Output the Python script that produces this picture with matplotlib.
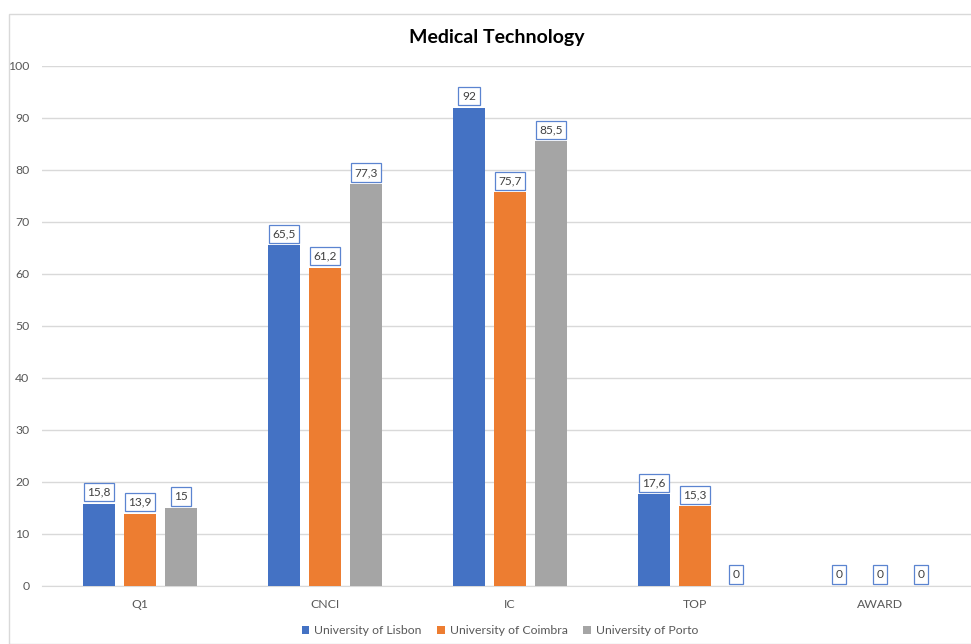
import matplotlib.pyplot as plt
import matplotlib.patches as mpatches
import numpy as np

# --- Data ---
categories = ["Q1", "CNCI", "IC", "TOP", "AWARD"]
series_names = ["University of Lisbon", "University of Coimbra", "University of Porto"]
lisbon = [15.8, 65.5, 92, 17.6, 0]
coimbra = [13.9, 61.2, 75.7, 15.3, 0]
porto = [15, 77.3, 85.5, 0, 0]
colors = ["#4472C4", "#ED7D31", "#A5A5A5"]

plt.rcParams['font.family'] = ['Lato', 'DejaVu Sans']

fig = plt.figure(figsize=(9.71, 6.44), dpi=100)
ax = fig.add_axes([42 / 971, 58 / 644, (971 - 42) / 971, (586 - 66) / 644])

# chart border
fig.patches.append(mpatches.Rectangle((9 / 971, 0), 1.2, 630 / 644, transform=fig.transFigure,
                                      fill=False, edgecolor="#d9d9d9", linewidth=1))

x = np.arange(len(categories))
offset = 0.2216
width = 0.173

for i, (name, vals) in enumerate(zip(series_names, [lisbon, coimbra, porto])):
    xs = x + (i - 1) * offset
    ax.bar(xs, vals, width=width, color=colors[i], label=name, zorder=3)
    for xv, v in zip(xs, vals):
        txt = f"{v:g}".replace(".", ",")
        ax.annotate(txt, (xv, v), xytext=(0, 6), textcoords="offset pixels",
                    ha="center", va="bottom", fontsize=8.6, color="#404040", zorder=5,
                    bbox=dict(boxstyle="square,pad=0.3", fc="white", ec="#5b84d0", lw=0.9))

ax.set_xlim(-98 / 185, 831 / 185)
ax.set_ylim(0, 100)
ax.set_yticks(range(0, 101, 10))
ax.set_xticks(x)
ax.set_xticklabels(categories)
ax.tick_params(axis="both", length=0, labelsize=8.8, colors="#595959")
ax.tick_params(axis="x", pad=9)
ax.tick_params(axis="y", pad=9)
ax.grid(axis="y", color="#d9d9d9", linewidth=1, zorder=0)
for s in ["top", "right", "left"]:
    ax.spines[s].set_visible(False)
ax.spines["bottom"].set_color("#d9d9d9")

fig.text(497 / 971, 1 - 38 / 644, "Medical Technology", ha="center", va="center",
         fontsize=14, fontweight="bold", color="#000000")

fig.legend(loc="center", bbox_to_anchor=(500 / 971, 13 / 644), ncol=3, frameon=False,
           fontsize=8.8, handlelength=0.6, handleheight=0.6, handletextpad=0.4,
           columnspacing=1.3, labelcolor="#595959")

fig.savefig("out.png", dpi=100)
